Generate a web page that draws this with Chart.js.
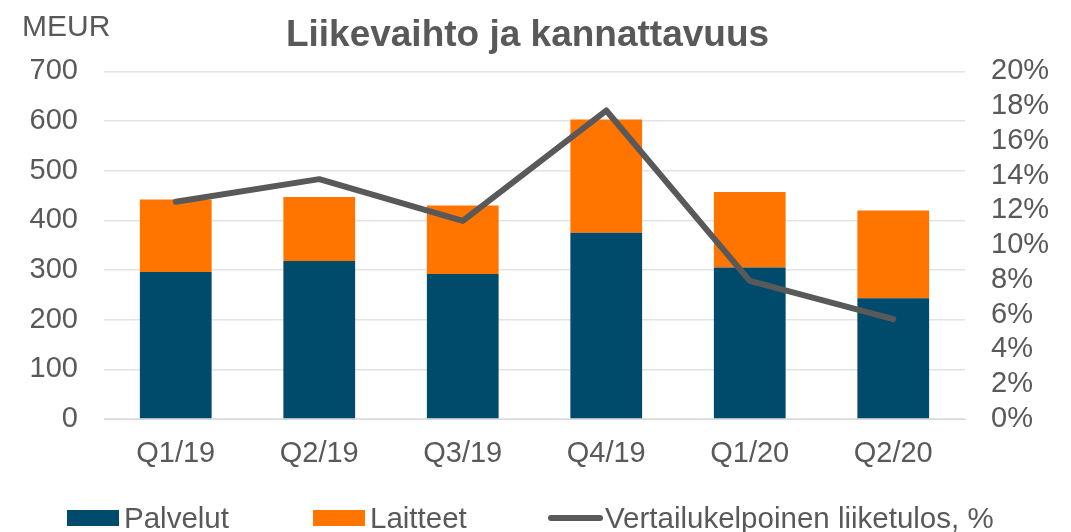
<!DOCTYPE html>
<html>
<head>
<meta charset="utf-8">
<script src="https://cdn.jsdelivr.net/npm/chart.js@4/dist/chart.umd.min.js"></script>
<style>
  body { margin: 0; background: #fff; }
  #wrap { position: relative; width: 1071px; height: 532px; font-family: "Liberation Sans", Arial, sans-serif; color: #595959; }
  #unit { position: absolute; left: 22px; top: 11px; font-size: 30px; line-height: 30px; }
  #legend { position: absolute; left: 0; top: 503px; height: 29px; display: flex; align-items: center; font-size: 29.5px; line-height: 29px; }
  .item { position: absolute; display: flex; align-items: center; white-space: nowrap; }
  .box { width: 52px; height: 16px; margin-right: 5px; }
  .ln { width: 55px; height: 6px; border-radius: 3px; background: #595959; margin-right: 2px; }
</style>
</head>
<body>
<div id="wrap">
  <canvas id="myChart" width="1071" height="532"></canvas>
  <div id="unit">MEUR</div>
  <div id="legend"></div>
</div>
<script>
const labels = ['Q1/19', 'Q2/19', 'Q3/19', 'Q4/19', 'Q1/20', 'Q2/20'];
const palvelut = [296, 318, 292, 375, 305, 243];
const laitteet = [146, 129, 138, 228, 152, 177];
const liiketulos = [12.5, 13.8, 11.4, 17.75, 7.95, 5.75];

const blue = '#004B6B';
const orange = '#FF7500';
const grey = '#595959';

// html legend below the chart
const legendItems = [
  { text: 'Palvelut', color: blue, left: 67 },
  { text: 'Laitteet', color: orange, left: 313 },
  { text: 'Vertailukelpoinen liiketulos, %', line: true, left: 548 }
];
const legendEl = document.getElementById('legend');
legendItems.forEach(it => {
  const d = document.createElement('div');
  d.className = 'item';
  d.style.left = it.left + 'px';
  const m = document.createElement('span');
  if (it.line) {
    m.className = 'ln';
  } else {
    m.className = 'box';
    m.style.background = it.color;
  }
  d.appendChild(m);
  d.appendChild(document.createTextNode(it.text));
  legendEl.appendChild(d);
});

Chart.defaults.font.family = '"Liberation Sans", Arial, sans-serif';
Chart.defaults.font.size = 29;
Chart.defaults.color = grey;

const ctx = document.getElementById('myChart');

new Chart(ctx, {
  data: {
    labels: labels,
    datasets: [
      {
        type: 'line',
        label: 'Vertailukelpoinen liiketulos, %',
        data: liiketulos,
        yAxisID: 'y1',
        borderColor: grey,
        borderWidth: 6,
        borderCapStyle: 'round',
        borderJoinStyle: 'round',
        pointRadius: 0,
        tension: 0,
        order: 0
      },
      {
        type: 'bar',
        label: 'Palvelut',
        data: palvelut,
        backgroundColor: blue,
        barPercentage: 0.5,
        categoryPercentage: 1,
        order: 1
      },
      {
        type: 'bar',
        label: 'Laitteet',
        data: laitteet,
        backgroundColor: orange,
        barPercentage: 0.5,
        categoryPercentage: 1,
        order: 1
      }
    ]
  },
  options: {
    responsive: false,
    animation: false,
    layout: {
      padding: { left: 0, right: 16, top: 0, bottom: 60 }
    },
    scales: {
      x: {
        stacked: true,
        grid: { display: false, drawTicks: false },
        border: { color: '#d9d9d9', width: 1 },
        ticks: { padding: 18, color: grey },
        afterFit: s => { s.height = 53; }
      },
      y: {
        stacked: true,
        min: 0,
        max: 700,
        ticks: { stepSize: 100, padding: 26, color: grey, autoSkip: false },
        grid: { color: '#e3e3e3', lineWidth: 1.5, drawTicks: false },
        border: { display: false },
        afterFit: s => { s.width = 104; }
      },
      y1: {
        position: 'right',
        min: 0,
        max: 20,
        ticks: { stepSize: 2, padding: 26, color: grey, autoSkip: false, callback: v => v + '%' },
        grid: { display: false, drawTicks: false },
        border: { display: false },
        afterFit: s => { s.width = 90; }
      }
    },
    plugins: {
      legend: { display: false },
      tooltip: { enabled: false },
      title: {
        display: true,
        text: 'Liikevaihto ja kannattavuus',
        color: grey,
        font: { size: 37, weight: 'bold' },
        padding: { top: 14, bottom: 13 }
      }
    }
  }
});
</script>
</body>
</html>
